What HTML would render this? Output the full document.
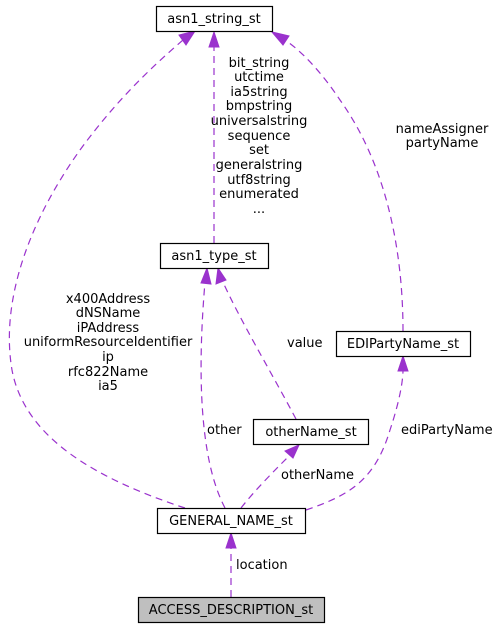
<!DOCTYPE html>
<html><head><meta charset="utf-8"><style>
html,body{margin:0;padding:0;background:#fff;}
svg{display:block;font-family:"DejaVu Sans","Liberation Sans",sans-serif;}
text{font-size:13px;fill:#000;}
.box{fill:#fff;stroke:#000;stroke-width:1.2;}
.edge{fill:none;stroke:#9a32cd;stroke-width:1.2;stroke-dasharray:7,5;}
.arr{fill:#9a32cd;stroke:#9a32cd;}
</style></head><body>
<svg width="500" height="629" viewBox="0 0 500 629">
<g>
<path class="edge" d="M231,597 L231,548"/>
<polygon class="arr" points="231,533 226,548 236,548"/>
<text x="236" y="569">location</text>

<path class="edge" d="M185,508 C100,480 25,440 12,370 C0,300 30,220 80,150 C120,95 160,60 183,40"/>
<polygon class="arr" points="195,31 179,35 186,45"/>
<g text-anchor="middle">
<text x="108" y="303">x400Address</text><text x="108" y="317">dNSName</text><text x="108" y="332">iPAddress</text><text x="108" y="346">uniformResourceIdentifier</text><text x="108" y="361">ip</text><text x="108" y="376">rfc822Name</text><text x="108" y="390">ia5</text>
</g>

<path class="edge" d="M225,508 C205,470 195,400 205,282"/>
<polygon class="arr" points="207,268 201,283 211,284"/>
<text x="207" y="434">other</text>

<path class="edge" d="M241,508 C255,490 275,470 290,455"/>
<polygon class="arr" points="299,445 285,451 293,458"/>
<text x="281" y="479">otherName</text>

<path class="edge" d="M306,510 C350,495 375,480 390,430 C400,400 403,380 403,370"/>
<polygon class="arr" points="403,356 398,371 408,371"/>
<text x="401" y="434">ediPartyName</text>

<path class="edge" d="M296,419 C270,370 240,320 222,280"/>
<polygon class="arr" points="218,268 216,284 226,280"/>
<text x="287" y="347">value</text>

<path class="edge" d="M214,243 L214,47"/>
<polygon class="arr" points="214,32 209,47 219,47"/>
<g text-anchor="middle">
<text x="259" y="67">bit_string</text><text x="259" y="81">utctime</text><text x="259" y="96">ia5string</text><text x="259" y="110">bmpstring</text><text x="259" y="125">universalstring</text><text x="259" y="140">sequence</text><text x="259" y="154">set</text><text x="259" y="169">generalstring</text><text x="259" y="184">utf8string</text><text x="259" y="198">enumerated</text><text x="259" y="213">...</text>
</g>

<path class="edge" d="M403,331 C403,260 390,170 340,100 C320,70 300,50 285,40"/>
<polygon class="arr" points="272,32 283,45 289,36"/>
<g text-anchor="middle">
<text x="442" y="133">nameAssigner</text><text x="442" y="147">partyName</text>
</g>
</g>
<g><rect class="box" x="156.5" y="6.5" width="116" height="25"/><text x="214" y="23" text-anchor="middle">asn1_string_st</text></g>
<g><rect class="box" x="160.5" y="243.5" width="108" height="25"/><text x="214" y="260" text-anchor="middle">asn1_type_st</text></g>
<g><rect class="box" x="336.5" y="331.5" width="134" height="25"/><text x="403" y="348" text-anchor="middle">EDIPartyName_st</text></g>
<g><rect class="box" x="253.5" y="419.5" width="115" height="25"/><text x="311" y="436" text-anchor="middle">otherName_st</text></g>
<g><rect class="box" x="157.5" y="508.5" width="148" height="25"/><text x="231" y="525" text-anchor="middle">GENERAL_NAME_st</text></g>
<g><rect x="138.5" y="597.5" width="186" height="25" fill="#bfbfbf" stroke="#000" stroke-width="1.2"/><text x="231" y="614" text-anchor="middle">ACCESS_DESCRIPTION_st</text></g>
</svg>
</body></html>
